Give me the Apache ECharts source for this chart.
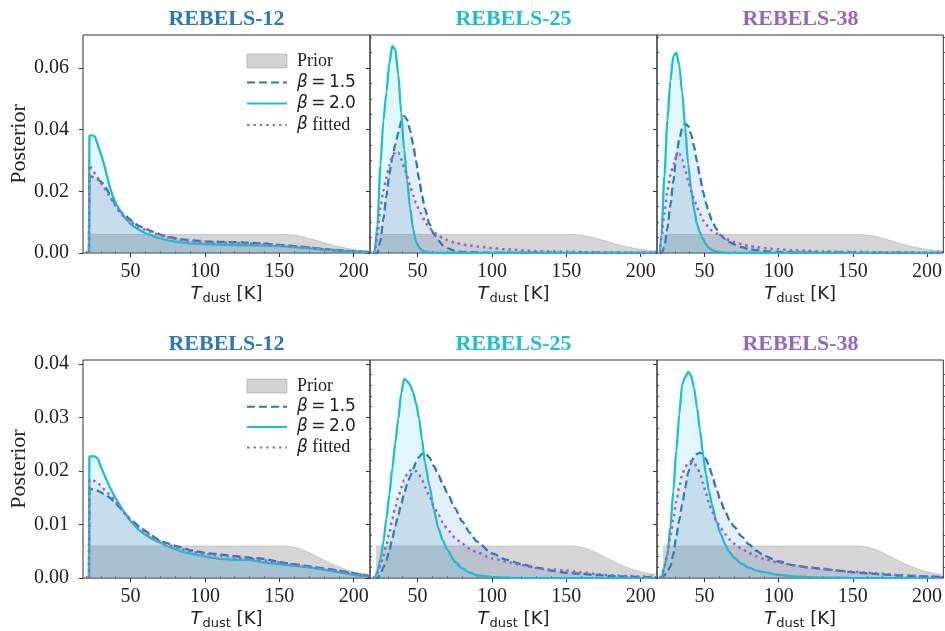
<!DOCTYPE html>
<html><head><meta charset="utf-8">
<script src="https://cdn.jsdelivr.net/npm/echarts@6/dist/echarts.min.js"></script>
<style>html,body{margin:0;padding:0;background:#fff}#c{width:945px;height:631px}</style>
</head><body><div id="c"></div>
<script>
// ---------------- DATA ----------------
const panelTitles = ['REBELS-12', 'REBELS-25', 'REBELS-38'];
const xMajorTicks = [50, 100, 150, 200];
const xMinorTicks = [20, 30, 40, 60, 70, 80, 90, 110, 120, 130, 140, 160, 170, 180, 190, 210];
const yMajorTop = [0, 0.02, 0.04, 0.06];
const yMinorTop = [0.005, 0.01, 0.015, 0.025, 0.03, 0.035, 0.045, 0.05, 0.055, 0.065, 0.07];
const yMajorBot = [0, 0.01, 0.02, 0.03, 0.04];
const yMinorBot = [0.002, 0.004, 0.006, 0.008, 0.012, 0.014, 0.016, 0.018, 0.022, 0.024, 0.026, 0.028, 0.032, 0.034, 0.036, 0.038];

// temperature grids (K)
const tempCol1 = [22, 22.3, 24, 26, 28, 30, 32, 34, 36, 38, 40, 43, 46, 50, 55, 60, 65, 70, 75, 80, 85, 90, 100, 110, 120, 130, 140, 150, 160, 170, 180, 190, 200, 210];
const tempPeak = [20, 21, 23, 25, 27, 29, 31, 33, 35, 37, 39, 41, 43, 45, 47, 49, 51, 53, 55, 58, 61, 64, 67, 70, 75, 80, 85, 90, 100, 110, 120, 130, 140, 150, 160, 170, 180, 190, 200, 210];

// prior
const priorTemp = [22, 150, 155, 160, 165, 170, 175, 180, 185, 190, 195, 200, 205, 210];
const priorDens = [0.006, 0.006, 0.006, 0.0058, 0.0054, 0.0048, 0.0041, 0.0034, 0.0027, 0.0021, 0.0016, 0.0012, 0.0009, 0.0007];

// top row
const top12b15 = [0, 0.0245, 0.0248, 0.0243, 0.0238, 0.0232, 0.0222, 0.0207, 0.0189, 0.0172, 0.0155, 0.0135, 0.0124, 0.0107, 0.0089, 0.0079, 0.0069, 0.006, 0.0053, 0.0048, 0.0044, 0.0041, 0.0038, 0.0036, 0.0035, 0.0033, 0.0031, 0.0026, 0.0022, 0.0018, 0.0013, 0.0009, 0.0005, 0.0003];
const top12b20 = [0, 0.038, 0.0382, 0.0378, 0.035, 0.0322, 0.029, 0.0253, 0.0215, 0.0185, 0.0162, 0.0137, 0.0115, 0.0094, 0.0077, 0.0064, 0.0055, 0.0047, 0.0041, 0.0037, 0.0034, 0.0031, 0.0029, 0.0027, 0.0026, 0.0025, 0.0024, 0.0022, 0.0019, 0.0015, 0.0011, 0.0007, 0.0004, 0.0002];
const top12fit = [0, 0.0285, 0.0272, 0.0258, 0.0243, 0.0228, 0.0215, 0.0199, 0.0183, 0.0166, 0.0152, 0.013, 0.0117, 0.0102, 0.0086, 0.0075, 0.0066, 0.0057, 0.0051, 0.0046, 0.0042, 0.0039, 0.0036, 0.0034, 0.0033, 0.0031, 0.0029, 0.0025, 0.0021, 0.0017, 0.0012, 0.0008, 0.0005, 0.0003];

const top25b15 = [0, 0, 0, 0.004, 0.011, 0.0185, 0.0255, 0.031, 0.0352, 0.039, 0.0428, 0.0445, 0.0432, 0.0398, 0.0352, 0.0297, 0.024, 0.0186, 0.0142, 0.0094, 0.0061, 0.0041, 0.0025, 0.0016, 0.0007, 0.0003, 0.0004, 0.0002, 0.0001, 0.0001, 0.0001, 0.0001, 0, 0, 0, 0, 0, 0, 0, 0];
const top25b20 = [0, 0, 0.009, 0.0285, 0.043, 0.052, 0.0615, 0.0672, 0.066, 0.058, 0.0455, 0.0335, 0.0235, 0.0145, 0.0078, 0.0035, 0.0018, 0.0009, 0.0004, 0.0001, 0, 0, 0, 0, 0, 0, 0, 0, 0, 0, 0, 0, 0, 0, 0, 0, 0, 0, 0, 0];
const top25fit = [0, 0, 0.006, 0.0148, 0.0203, 0.0245, 0.0285, 0.0314, 0.0328, 0.0326, 0.0305, 0.0278, 0.0248, 0.0215, 0.0188, 0.0162, 0.014, 0.0121, 0.0101, 0.0081, 0.0067, 0.0057, 0.0048, 0.0042, 0.0034, 0.0028, 0.0024, 0.0021, 0.0016, 0.0012, 0.0009, 0.0006, 0.0005, 0.0004, 0.0003, 0.0002, 0.0002, 0.0001, 0.0001, 0.0001];

const top38b15 = [0, 0, 0.002, 0.008, 0.0155, 0.0232, 0.0315, 0.0368, 0.0405, 0.042, 0.0412, 0.0385, 0.0345, 0.0296, 0.0247, 0.02, 0.0162, 0.013, 0.0106, 0.0078, 0.0058, 0.0045, 0.0035, 0.0028, 0.0019, 0.0013, 0.0009, 0.0006, 0.0003, 0.0002, 0.0001, 0.0001, 0.0001, 0.0001, 0, 0, 0, 0, 0, 0];
const top38b20 = [0, 0.006, 0.025, 0.043, 0.0558, 0.0638, 0.065, 0.061, 0.052, 0.0405, 0.029, 0.0208, 0.0142, 0.0092, 0.0066, 0.0045, 0.0028, 0.0017, 0.001, 0.0005, 0.0002, 0.0001, 0, 0, 0, 0, 0, 0, 0, 0, 0, 0, 0, 0, 0, 0, 0, 0, 0, 0];
const top38fit = [0, 0.005, 0.0128, 0.0202, 0.0252, 0.0287, 0.0313, 0.0322, 0.0303, 0.0268, 0.0235, 0.0201, 0.0175, 0.0148, 0.0127, 0.0107, 0.0094, 0.0082, 0.0073, 0.0064, 0.0054, 0.0047, 0.0041, 0.0036, 0.0029, 0.0023, 0.0019, 0.0016, 0.0012, 0.0009, 0.0007, 0.0005, 0.0004, 0.0003, 0.0003, 0.0002, 0.0002, 0.0001, 0.0001, 0.0001];

// bottom row
const bot12b15 = [0, 0.0165, 0.0166, 0.0164, 0.0163, 0.016, 0.0157, 0.0154, 0.015, 0.0145, 0.0139, 0.0131, 0.0121, 0.011, 0.0098, 0.0088, 0.0078, 0.0069, 0.0065, 0.006, 0.0057, 0.0052, 0.0047, 0.0044, 0.0041, 0.0038, 0.0036, 0.003, 0.0026, 0.0022, 0.0018, 0.0014, 0.0009, 0.0004];
const bot12b20 = [0, 0.0227, 0.0227, 0.0227, 0.0223, 0.0208, 0.0195, 0.0182, 0.017, 0.0159, 0.0149, 0.0135, 0.0121, 0.0107, 0.0091, 0.0081, 0.0072, 0.0066, 0.0059, 0.0054, 0.0049, 0.0046, 0.004, 0.0036, 0.0034, 0.0034, 0.0029, 0.0026, 0.0023, 0.002, 0.0016, 0.0011, 0.0006, 0.0003];
const bot12fit = [0, 0.0184, 0.0183, 0.0181, 0.0178, 0.0172, 0.0166, 0.016, 0.0156, 0.015, 0.0142, 0.0132, 0.0121, 0.0108, 0.0096, 0.0086, 0.0076, 0.0068, 0.0062, 0.0058, 0.0054, 0.005, 0.0045, 0.0042, 0.0039, 0.0036, 0.0033, 0.0029, 0.0025, 0.0021, 0.0017, 0.0013, 0.0008, 0.0004];

const bot25b15 = [0, 0, 0, 0.0008, 0.002, 0.0033, 0.0051, 0.0074, 0.0097, 0.0118, 0.0138, 0.0158, 0.0175, 0.019, 0.0204, 0.0216, 0.0226, 0.0232, 0.0234, 0.0225, 0.0209, 0.0192, 0.0175, 0.0159, 0.0131, 0.0106, 0.0085, 0.0068, 0.0046, 0.0034, 0.0026, 0.0019, 0.0014, 0.001, 0.0008, 0.0006, 0.0004, 0.0003, 0.0002, 0.0001];
const bot25b20 = [0, 0, 0.0012, 0.0035, 0.0068, 0.011, 0.0156, 0.0205, 0.0253, 0.0297, 0.0345, 0.0372, 0.0368, 0.036, 0.0347, 0.0326, 0.0298, 0.0258, 0.0215, 0.0172, 0.0127, 0.0093, 0.007, 0.0053, 0.0031, 0.0018, 0.001, 0.0005, 0.0002, 0.0001, 0, 0, 0, 0, 0, 0, 0, 0, 0, 0];
const bot25fit = [0, 0, 0.0009, 0.0024, 0.0042, 0.0062, 0.0085, 0.0111, 0.0133, 0.0152, 0.0169, 0.0183, 0.0194, 0.0201, 0.0203, 0.02, 0.0193, 0.0183, 0.017, 0.0152, 0.0135, 0.0118, 0.0104, 0.0091, 0.0076, 0.0064, 0.0055, 0.0048, 0.0037, 0.003, 0.0024, 0.0019, 0.0016, 0.0014, 0.0011, 0.0008, 0.0005, 0.0004, 0.0003, 0.0002];

const bot38b15 = [0, 0, 0.0005, 0.0013, 0.0022, 0.0045, 0.0078, 0.0108, 0.0138, 0.0168, 0.0197, 0.0215, 0.0227, 0.0232, 0.0234, 0.0232, 0.0222, 0.0211, 0.0193, 0.0167, 0.0143, 0.0124, 0.0108, 0.0096, 0.0078, 0.0063, 0.0051, 0.0042, 0.0031, 0.0024, 0.002, 0.0017, 0.0014, 0.0011, 0.0009, 0.0007, 0.0005, 0.0004, 0.0003, 0.0002];
const bot38b20 = [0, 0, 0.002, 0.0045, 0.0095, 0.0162, 0.0238, 0.0305, 0.0362, 0.0375, 0.0385, 0.0378, 0.0355, 0.0318, 0.0276, 0.0232, 0.0193, 0.0163, 0.0138, 0.0106, 0.0082, 0.0062, 0.0048, 0.0038, 0.0027, 0.0019, 0.0014, 0.0011, 0.0006, 0.0003, 0.0002, 0.0001, 0.0001, 0, 0, 0, 0, 0, 0, 0];
const bot38fit = [0, 0.0005, 0.0022, 0.0045, 0.0077, 0.0111, 0.0143, 0.017, 0.0193, 0.0207, 0.0215, 0.0218, 0.0215, 0.0207, 0.0195, 0.0178, 0.0158, 0.014, 0.0125, 0.0107, 0.0093, 0.0082, 0.0072, 0.0064, 0.0055, 0.0047, 0.0041, 0.0036, 0.0029, 0.0024, 0.002, 0.0017, 0.0014, 0.0012, 0.001, 0.0008, 0.0006, 0.0004, 0.0003, 0.0002];

// ---------------- STYLE / LAYOUT ----------------
const C15 = '#2a78b6', C20 = '#1dbecf', CFIT = '#9467bd';
const titleColors = [C15, C20, CFIT];
const colLeft = [83, 370, 657], colW = 287;
const rowTop = [35, 360], rowH = [218, 219], rowMax = [0.0707, 0.0407];
const serif = '"Liberation Serif", "Times New Roman", serif';
const sans = '"DejaVu Sans", sans-serif';

const panels = [
  {row: 0, col: 0, temp: tempCol1, b15: top12b15, b20: top12b20, fit: top12fit},
  {row: 0, col: 1, temp: tempPeak, b15: top25b15, b20: top25b20, fit: top25fit},
  {row: 0, col: 2, temp: tempPeak, b15: top38b15, b20: top38b20, fit: top38fit},
  {row: 1, col: 0, temp: tempCol1, b15: bot12b15, b20: bot12b20, fit: bot12fit},
  {row: 1, col: 1, temp: tempPeak, b15: bot25b15, b20: bot25b20, fit: bot25fit},
  {row: 1, col: 2, temp: tempPeak, b15: bot38b15, b20: bot38b20, fit: bot38fit}
];

const zip = (xs, ys) => xs.map((x, i) => [x, ys[i]]);
const grid = [], xAxis = [], yAxis = [], series = [], graphic = [];

panels.forEach((p, i) => {
  grid.push({left: colLeft[p.col], top: rowTop[p.row], width: colW, height: rowH[p.row],
    show: true, borderColor: '#333', borderWidth: 1, backgroundColor: 'transparent', containLabel: false});
  const yMaj = p.row === 0 ? yMajorTop : yMajorBot;
  const yMin = p.row === 0 ? yMinorTop : yMinorBot;
  xAxis.push({type: 'value', gridIndex: i, min: 18, max: 211,
    axisLine: {show: false}, splitLine: {show: false},
    axisTick: {show: true, length: 4, customValues: xMajorTicks, lineStyle: {color: '#333', width: 1}},
    axisLabel: {show: true, customValues: xMajorTicks, margin: 9, fontFamily: serif, fontSize: 20, color: '#222'},
    name: '{i|T}{s|dust}{n| [K]}', nameLocation: 'middle', nameGap: 27,
    nameTextStyle: {color: '#222', fontFamily: sans, fontSize: 18, rich: {
      i: {fontFamily: sans, fontStyle: 'italic', fontSize: 18, lineHeight: 20, verticalAlign: 'top', color: '#222'},
      s: {fontFamily: sans, fontSize: 13, lineHeight: 13, padding: [9, 0, 0, 1], verticalAlign: 'bottom', color: '#222'},
      n: {fontFamily: sans, fontSize: 18, lineHeight: 20, verticalAlign: 'top', color: '#222'}
    }}
  });
  xAxis.push({type: 'value', gridIndex: i, min: 18, max: 211,
    axisLine: {show: false}, splitLine: {show: false}, axisLabel: {show: false},
    axisTick: {show: true, length: 2, customValues: xMinorTicks, lineStyle: {color: '#333', width: 0.8}}
  });
  yAxis.push({type: 'value', gridIndex: i, min: 0, max: rowMax[p.row],
    axisLine: {show: false}, splitLine: {show: false},
    axisTick: {show: true, length: 4, customValues: yMaj, lineStyle: {color: '#333', width: 1}},
    axisLabel: {show: p.col === 0, customValues: yMaj, margin: 14, fontFamily: serif, fontSize: 20, color: '#222',
      formatter: v => v.toFixed(2)},
    name: p.col === 0 ? 'Posterior' : '', nameLocation: 'middle', nameGap: 51, nameRotate: 90,
    nameTextStyle: {fontFamily: serif, fontSize: 22, color: '#222'}
  });
  yAxis.push({type: 'value', gridIndex: i, min: 0, max: rowMax[p.row],
    axisLine: {show: false}, splitLine: {show: false}, axisLabel: {show: false},
    axisTick: {show: true, length: 2, customValues: yMin, lineStyle: {color: '#333', width: 0.8}}
  });

  const ax = {xAxisIndex: 2 * i, yAxisIndex: 2 * i};
  series.push(Object.assign({type: 'line', name: 'Prior', data: zip(priorTemp, priorDens), symbol: 'none',
    itemStyle: {color: 'rgb(128,128,128)'},
    lineStyle: {width: 0.8, color: 'rgba(120,120,120,0.35)'},
    areaStyle: {color: 'rgb(128,128,128)', opacity: 0.33}, z: 1, silent: true}, ax));
  const sm = p.col === 0 ? false : 0.25;
  series.push(Object.assign({type: 'line', name: 'β=1.5', data: zip(p.temp, p.b15), symbol: 'none', smooth: sm, smoothMonotone: 'x',
    itemStyle: {color: C15},
    lineStyle: {width: 2.3, color: C15, type: [8, 4]},
    areaStyle: {color: C15, opacity: 0.13}, z: 3}, ax));
  series.push(Object.assign({type: 'line', name: 'β=2.0', data: zip(p.temp, p.b20), symbol: 'none', smooth: sm, smoothMonotone: 'x',
    itemStyle: {color: C20},
    lineStyle: {width: 2.3, color: C20},
    areaStyle: {color: C20, opacity: 0.13}, z: 4}, ax));
  series.push(Object.assign({type: 'line', name: 'β fitted', data: zip(p.temp, p.fit), symbol: 'none', smooth: sm, smoothMonotone: 'x',
    itemStyle: {color: CFIT},
    lineStyle: {width: 2.5, color: CFIT, type: [2.5, 3.9]},
    areaStyle: {color: CFIT, opacity: 0.08}, z: 5}, ax));

  graphic.push({type: 'text', x: colLeft[p.col] + colW / 2, y: rowTop[p.row] - 16,
    style: {text: panelTitles[p.col], fill: titleColors[p.col], font: 'bold 22px ' + serif,
      textAlign: 'center', textVerticalAlign: 'middle'}});
});

const legendRich = {
  s: {fontFamily: serif, fontSize: 18, color: '#222', lineHeight: 20},
  b: {fontFamily: sans, fontStyle: 'italic', fontSize: 17, color: '#222', lineHeight: 20},
  m: {fontFamily: sans, fontSize: 17, color: '#222', lineHeight: 20}
};
const legendText = {
  'Prior': '{s|Prior}',
  'β=1.5': '{b|β}{m|\u2009=\u20091.5}',
  'β=2.0': '{b|β}{m|\u2009=\u20092.0}',
  'β fitted': '{b|β}{s| fitted}'
};
const hiddenSym = {color: 'rgba(0,0,0,0)', borderColor: 'rgba(0,0,0,0)', borderWidth: 0, opacity: 0};
const legendData = [
  {name: 'Prior', icon: 'rect', itemStyle: {color: 'rgba(128,128,128,0.35)', borderColor: 'rgba(110,110,110,0.35)', borderWidth: 1}},
  {name: 'β=1.5', itemStyle: hiddenSym},
  {name: 'β=2.0', itemStyle: hiddenSym},
  {name: 'β fitted', itemStyle: hiddenSym}
];
const mkLegend = (top, gap) => ({
  orient: 'vertical', left: 241, top: top, itemWidth: 40, itemHeight: 14, itemGap: gap,
  data: legendData, selectedMode: false,
  formatter: n => legendText[n],
  textStyle: {fontFamily: serif, fontSize: 18, color: '#222', padding: [0, 0, 0, 5], rich: legendRich}
});

const chart = echarts.init(document.getElementById('c'), null, {renderer: 'canvas'});
chart.setOption({
  animation: false,
  backgroundColor: '#fff',
  grid, xAxis, yAxis, series, graphic,
  legend: [mkLegend(47, 4), mkLegend(372, 3.2)]
});
</script></body></html>
